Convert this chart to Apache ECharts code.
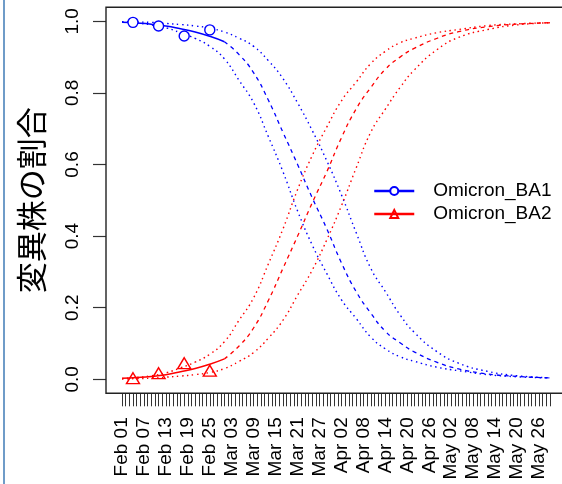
<!DOCTYPE html>
<html>
<head>
<meta charset="utf-8">
<script src="https://cdn.jsdelivr.net/npm/echarts@6/dist/echarts.min.js"></script>
<style>html,body{margin:0;padding:0;background:#fff}#c{width:562px;height:484px}</style>
</head>
<body>
<div id="c"></div>
<script>
// ---- categories: daily dates Feb 01 .. May 29 ----
const monthNames = ['Feb', 'Mar', 'Apr', 'May'];
const monthDays = [28, 31, 30, 29];
const dates = [];
monthNames.forEach((m, mi) => {
  for (let d = 1; d <= monthDays[mi]; d++) dates.push(m + ' ' + String(d).padStart(2, '0'));
});

// ---- observed proportions (weekly) ----
const obsDays = [3, 10, 17, 24];
const ba1Obs = [0.997, 0.987, 0.959, 0.976];
const ba2Obs = [0.003, 0.017, 0.045, 0.024];

// ---- fitted curves ----
const fitDays = [0, 4, 8, 12, 16, 20, 24, 28];
const ba1Fit = [0.997, 0.995, 0.992, 0.987, 0.979, 0.970, 0.958, 0.943];
const ba2Fit = [0.003, 0.005, 0.008, 0.013, 0.021, 0.030, 0.042, 0.057];

const predDays = [28, 32, 36, 40, 44, 48, 52, 56, 60, 64, 68, 72, 76, 80, 86, 92, 100, 108, 117];
const ba1Pred = [0.943, 0.907, 0.856, 0.78, 0.69, 0.60, 0.507, 0.42, 0.325, 0.245, 0.185, 0.134, 0.102, 0.076, 0.048, 0.029, 0.015, 0.008, 0.004];
const ba2Pred = [0.057, 0.093, 0.144, 0.22, 0.31, 0.40, 0.493, 0.58, 0.675, 0.755, 0.815, 0.866, 0.90, 0.925, 0.952, 0.971, 0.985, 0.992, 0.996];

const bandDays = [0, 4, 8, 12, 16, 20, 24, 28, 32, 36, 40, 44, 48, 52, 56, 60, 64, 68, 72, 76, 80, 86, 92, 100, 108, 117];
const ba1Lower = [0.998, 0.995, 0.99, 0.982, 0.968, 0.952, 0.93, 0.895, 0.835, 0.772, 0.678, 0.58, 0.47, 0.375, 0.295, 0.222, 0.17, 0.118, 0.085, 0.063, 0.05, 0.034, 0.024, 0.013, 0.007, 0.004];
const ba1Upper = [0.999, 0.998, 0.997, 0.994, 0.991, 0.987, 0.981, 0.97, 0.953, 0.93, 0.89, 0.84, 0.772, 0.695, 0.61, 0.515, 0.41, 0.31, 0.245, 0.18, 0.13, 0.078, 0.045, 0.022, 0.01, 0.004];
const ba2Upper = [0.002, 0.005, 0.01, 0.018, 0.032, 0.048, 0.07, 0.105, 0.165, 0.228, 0.322, 0.42, 0.53, 0.625, 0.705, 0.778, 0.83, 0.882, 0.916, 0.94, 0.953, 0.968, 0.977, 0.988, 0.993, 0.996];
const ba2Lower = [0.001, 0.002, 0.003, 0.006, 0.009, 0.013, 0.019, 0.03, 0.05, 0.075, 0.115, 0.165, 0.235, 0.305, 0.39, 0.485, 0.59, 0.69, 0.755, 0.815, 0.865, 0.92, 0.955, 0.977, 0.99, 0.996];

const BLUE = '#0000ff', RED = '#ff0000';
const FONT = 'Liberation Sans, Arial, sans-serif';
const pairs = (xs, ys) => xs.map((x, i) => [x, ys[i]]);

function curve(name, xs, ys, color, type, width) {
  return {
    name: name, type: 'line', data: pairs(xs, ys), symbol: 'none',
    smooth: true, silent: true,
    lineStyle: { color: color, width: width, type: type },
    z: 2
  };
}

const chart = echarts.init(document.getElementById('c'), null, { renderer: 'canvas' });
chart.setOption({
  animation: false,
  backgroundColor: '#fff',
  grid: [
    { left: 122, right: 12, top: 21.3, bottom: 104.7, containLabel: false },
    { left: 122, right: 12, top: 7.3, bottom: 90.7, containLabel: false }
  ],
  xAxis: [
    { type: 'category', gridIndex: 0, data: dates, boundaryGap: false, show: false },
    {
      type: 'category', gridIndex: 1, data: dates, boundaryGap: false,
      axisLine: { show: false },
      axisTick: { show: true, interval: 0, length: 13, lineStyle: { color: '#333', width: 1 } },
      axisLabel: { interval: 5, rotate: 90, margin: 24, fontSize: 19, color: '#000', fontFamily: FONT },
      splitLine: { show: false }
    }
  ],
  yAxis: [
    {
      type: 'value', gridIndex: 0, min: 0, max: 1, interval: 0.2, offset: 16,
      name: '変異株の割合', nameLocation: 'middle', nameRotate: 90, nameGap: 59,
      nameTextStyle: { fontSize: 31, color: '#000', fontFamily: 'Noto Sans CJK JP' },
      axisLine: { show: false },
      axisTick: { show: true, length: 13, lineStyle: { color: '#333', width: 1.2 } },
      axisLabel: { rotate: 90, margin: 24, fontSize: 19, color: '#000', fontFamily: FONT,
        formatter: v => v.toFixed(1) },
      splitLine: { show: false }
    },
    { type: 'value', gridIndex: 1, min: 0, max: 1, show: false }
  ],
  legend: {
    orient: 'vertical', left: 368, top: 176, itemWidth: 40, itemHeight: 10, itemGap: 3,
    textStyle: { fontSize: 19, color: '#000', fontFamily: FONT, lineHeight: 20, padding: [0, 0, 0, 14] },
    data: [
      { name: 'Omicron_BA1', lineStyle: { width: 2.5, color: BLUE, opacity: 1 } },
      { name: 'Omicron_BA2', lineStyle: { width: 2.5, color: RED, opacity: 1 } }
    ]
  },
  graphic: [
    { type: 'rect', shape: { x: 106, y: 7.3, width: 480, height: 386 },
      style: { fill: null, stroke: '#222', lineWidth: 1.4 }, silent: true, z: 1 },
    { type: 'line', shape: { x1: 4, y1: 0, x2: 4, y2: 484 },
      style: { stroke: '#6f9cc8', lineWidth: 2 }, silent: true }
  ],
  series: [
    curve('ba1fit', fitDays, ba1Fit, BLUE, 'solid', 1.5),
    curve('ba1pred', predDays, ba1Pred, BLUE, [4, 4], 1.3),
    curve('ba1lo', bandDays, ba1Lower, BLUE, [1.5, 3.5], 1.4),
    curve('ba1hi', bandDays, ba1Upper, BLUE, [1.5, 3.5], 1.4),
    curve('ba2fit', fitDays, ba2Fit, RED, 'solid', 1.5),
    curve('ba2pred', predDays, ba2Pred, RED, [4, 4], 1.3),
    curve('ba2hi', bandDays, ba2Upper, RED, [1.5, 3.5], 1.4),
    curve('ba2lo', bandDays, ba2Lower, RED, [1.5, 3.5], 1.4),
    {
      name: 'Omicron_BA1', type: 'line', data: pairs(obsDays, ba1Obs),
      symbol: 'circle', symbolSize: 10, showAllSymbol: true,
      lineStyle: { width: 0, opacity: 0 },
      itemStyle: { color: '#fff', borderColor: BLUE, borderWidth: 1.4 }, z: 3
    },
    {
      name: 'Omicron_BA2', type: 'line', data: pairs(obsDays, ba2Obs),
      symbol: 'triangle', symbolSize: [13, 11], showAllSymbol: true,
      lineStyle: { width: 0, opacity: 0 },
      itemStyle: { color: 'rgba(255,255,255,0)', borderColor: RED, borderWidth: 1.4 }, z: 3
    }
  ]
});
</script>
</body>
</html>
